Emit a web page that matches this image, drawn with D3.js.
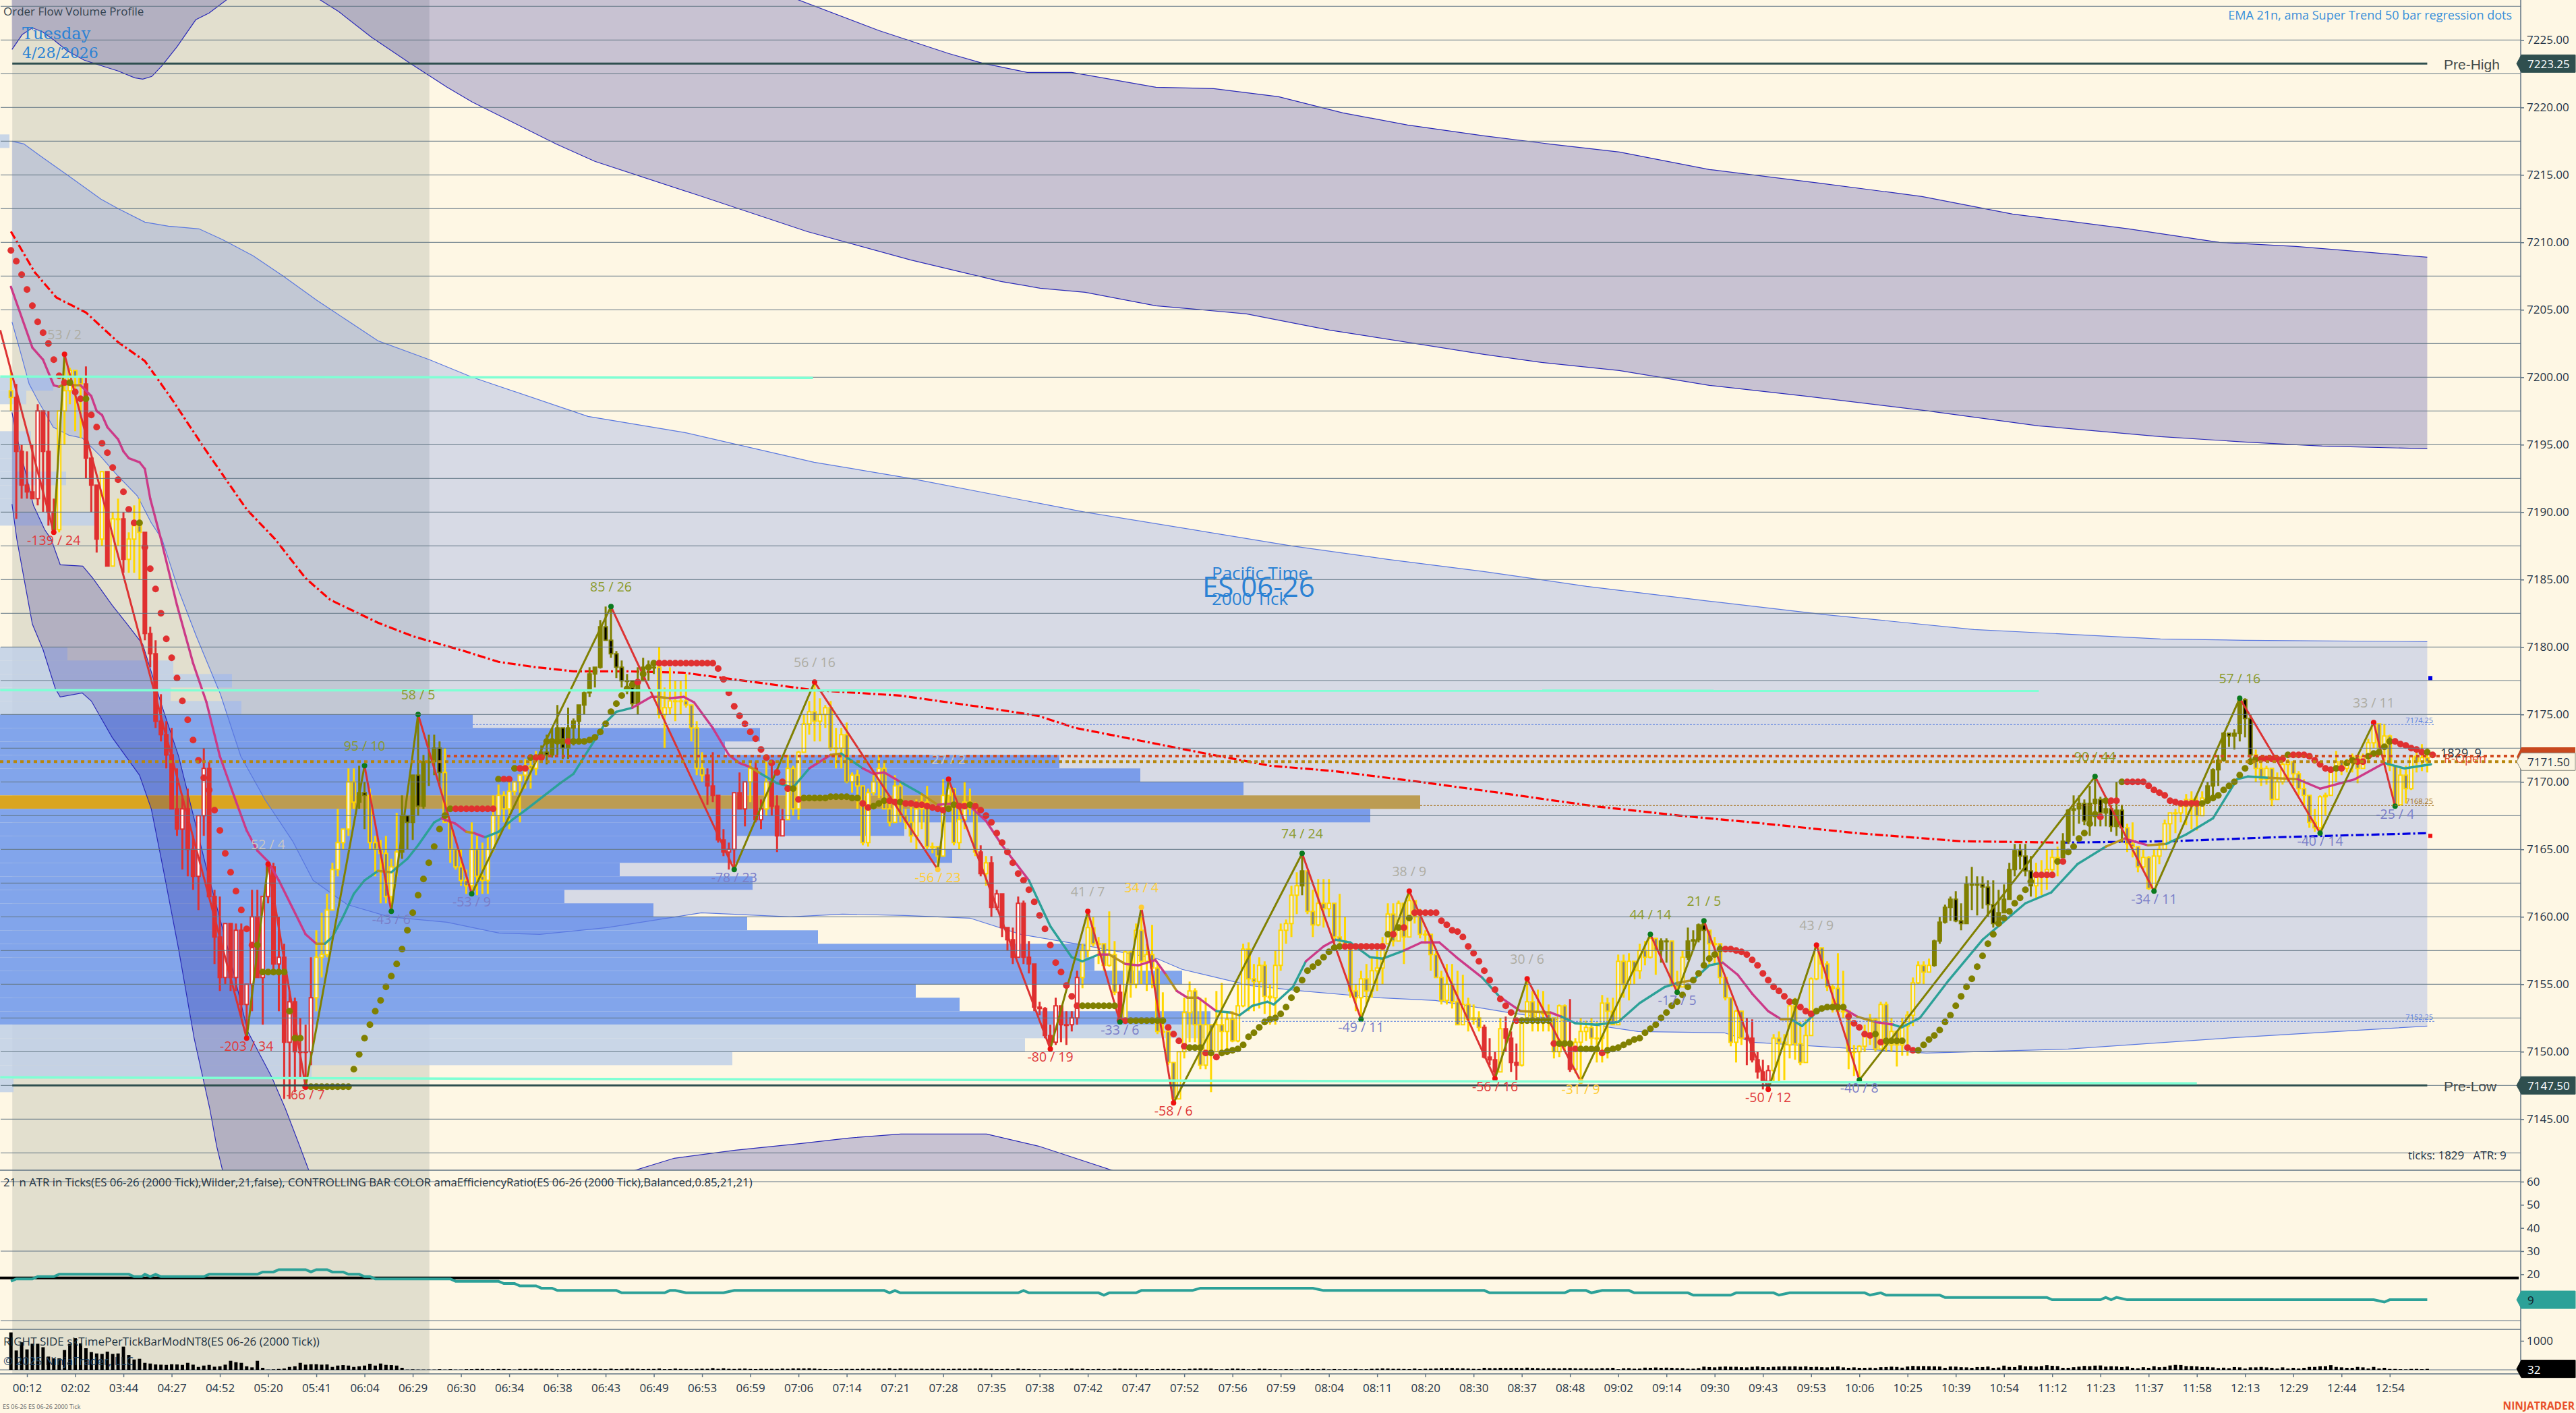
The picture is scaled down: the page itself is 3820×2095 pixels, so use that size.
<!DOCTYPE html>
<html>
<head>
<meta charset="utf-8">
<script src="https://cdn.jsdelivr.net/npm/d3@7"></script>
<style>
html,body{margin:0;padding:0;background:#FEF7E4;overflow:hidden}
text{font-family:"Open Sans",sans-serif}
</style>
</head>
<body>
<div id="chart"></div>
<script>
// Bars are kept as price minus 7100, one row = 10 bars
var priceBase = 7100;
var barClose = [
98.5,94.5,92,91.5,91,97.5,94.5,90,88.7,97.5,
99,100.5,100,99.5,94,92,88,93,86,89.5,
89.5,86.5,88,89,88.5,81,79.5,74.5,73.5,72,
68,66.5,68,65,63,67.5,71,61.5,58.5,55.5,
59.5,55.5,59,53.5,55,60,55.5,61.5,63.7,56.5,
57,50.7,53.7,50,50,50,54,57,57.2,60.5,
63.5,65.5,66.5,70,68.5,69.2,69,65.5,65,64.7,
61.5,63.7,64.8,67.5,67,70.5,68.2,71.5,71.5,72.5,
70.7,67,65,63.7,62.7,62.3,65,63,62.7,65,
67.5,69,68,69.3,70,70.5,71.2,71,71.7,72.2,
72,73,74,72.5,74,74.5,75.7,76.6,78,78.5,
81.5,80.5,79.5,78.5,77.5,77.5,75.8,77.5,78.5,78.5,
78.5,75,75.5,76,76,76,75.7,74,71,70.5,
69.7,69,65.7,64.8,65,69.2,68,70,71,67.2,
68,70,68.2,66,67.2,71,68,72.2,74.3,75.2,
74.5,75,75.5,72.5,72.5,73.5,70,70.5,69.7,65.5,
69.2,70,71,68,67,69.7,67.5,67,66,68,
68.5,65.2,65.2,64.5,69,69.5,65.5,67.2,68.5,68,
64.8,63.2,64,60.7,61.7,59.2,58.3,57,61,57,
56.5,53.3,53.2,51.2,50.7,53.4,52,52,52.5,55.5,
57.5,59.2,58,58,56.4,57.2,54.4,52.2,57.4,55,
59,56.7,57.2,56.2,51.5,51.5,49.2,46.5,50,52.9,
54.5,52,49,52,50,52,51.5,52.4,50.8,53.4,
57.6,55.4,55.2,56.4,54.1,54,56.4,59,59.5,61.6,
62.3,63.4,60.4,59.4,61,60.6,61,58.5,58.2,58,
54.5,54,55.4,54.5,56,56.2,58,60.2,58.2,61,
58.5,61.2,60,58.7,58.7,57.2,55.5,53.8,55,53.7,
52,53.5,52.4,52.5,51.8,49.6,49.4,48.5,51.7,51,
49.2,49,52.4,53.7,52.4,53,52.8,52.5,50,53.4,
50.6,48.7,50.7,51.5,51.8,51,51,53.6,53,52,
56.7,55,56.7,56,57.5,57,58.4,57.5,58.2,58.2,
55,54.8,57,58.2,58.3,59.4,59,58,58,55.5,
54,50.7,53,51,51,49.4,48.5,47.8,48.6,51,
50.7,50.5,53.4,50.6,49.2,51.2,55.4,57.7,56.5,54.8,
54.7,53,53,50,50,50.4,51.3,52.4,50.2,53.5,
50.5,51.5,50.5,51.9,52.7,55.1,56.4,55.9,56.4,58.2,
59.6,60.7,61.3,59.7,59.5,62.4,62.4,62.4,62.2,60.9,
59.5,60.3,61.3,63.5,64.9,64.5,63.4,62.3,63,63,
63.5,64.4,64.4,65.6,67.9,68,68.4,67.1,68.4,68.7,
67.7,68,66.7,67.9,66.6,65.4,65.2,63.7,64.4,62.1,
64.5,65,66.9,67.7,67.7,68.2,68.7,68.2,67.5,68.8,
69.7,70.9,71.6,73.6,73.4,73.6,76.1,74.7,72,71,
70.2,71,68.7,70,71.3,71.5,70.6,69.5,69,67,
66.6,68.9,69,70.9,71.5,71,71.5,71.9,71,71.9,
72.9,74.3,72.5,73.4,71.2,68.3,70.5,69.5,71.9,71.5,
71.8,71.5];
var barHigh = [
100.5,99.5,95,94.5,95,98,97.5,97.5,91,97.5,
101.7,100.7,100,100,100.8,94,92,93,93,90,
91,90,88.5,90.5,91,87.6,81.5,80.5,76.5,74.5,
74,71,69,69.5,66,67.5,72.5,71.5,62,61.5,
59.5,59.5,59.5,59.5,55,62,62,61.5,63.9,64,
60,58,54.5,54,52.5,52,57,59,60.3,61.7,
64,68,66.5,71,71,71.2,70,69.5,66,65.7,
66,64.3,67.7,69,67,70.5,75,72,73.5,73.5,
73,72.5,67,65,65,63.5,67,66,65.5,66,
69,69.8,69.3,70,70,70.5,71.7,71.7,72.3,72.7,
73.5,74,75.7,74,75.5,74.7,75.7,76.7,78.5,78.5,
82,83,83,79.7,79,78,77.5,78.5,79.2,79,
79,80,77,78.5,77.5,77.5,78,75.7,74.5,72.2,
71,72.2,69,66.5,65.5,69.2,70.7,70,71.5,71.5,
68.7,71.5,71.5,69,68,72,71.2,72.3,75,76,
77.4,76.2,75.7,76,74,74,74.4,70.7,70.9,68,
69.5,70.5,72,71.5,68.5,70.5,70,68,68.5,68.7,
69,69.7,65.5,65,70.2,70.2,68.5,68,70,69.5,
68.5,65.3,64.5,64.5,62,61.7,59.2,59.2,61.5,61.2,
58.2,56.5,53.7,53.3,52,54,53,53,53,56,
58,60.4,60,58.5,58,60.4,58.2,55,57.5,57.5,
59.5,60.7,58,59.4,56.5,54.4,51.5,49.2,50,54,
55.2,54.7,54,54,52,54.5,55.1,53,53,55,
58,58.1,56.5,57,56.7,55,57.5,59.5,59.8,62.3,
63.3,64.7,63,62,62.8,62.8,62.8,60.5,61.7,60,
58,55,56,56.5,57,57.5,58.5,61,61,61.2,
61,61.9,61,60.6,59,58,57.5,56,56.5,56.5,
56,55.7,54,53.5,53,52,51,50,52.5,52.6,
51.5,50.6,52.5,55.4,54.5,54.6,54.5,53.5,52,53.5,
53.5,53.9,51,52.5,52.3,52.5,52.2,54.2,54,54,
57.2,57.2,57.3,56.7,58,58.2,58.7,58.2,58.4,58.4,
58.2,56,57.5,59.2,59,59.5,59.7,59,58.5,58,
55,54,53.1,53,52.5,52.4,50,49.4,49,51.3,
51.5,51.3,53.7,54,52.2,52.4,55.5,57.9,57.4,56.7,
55,57.3,56,53,50.5,50.5,52,52.8,52.5,53.7,
53.7,52.5,51,52.5,53,55.5,56.7,56.7,56.9,58.3,
60,60.9,61.5,61.9,61,63,63.7,63,63,62.7,
62.7,62,62.4,64,65.4,65.4,65.4,64.5,64,64.2,
65,65,65.2,66.2,68,69,69,68.7,69.7,70.4,
68.9,68.5,68.3,70,68.3,66.9,67,65.2,65,64.5,
65,65.5,67.2,67.7,68,68.5,69.1,69.3,69,69.3,
70,71,72,73.7,73.6,73.9,76.2,76.2,75,72.4,
71.5,71.2,71,70.7,71.7,71.7,71,70.8,70.2,69,
68,69,69.2,71,72.3,71.5,71.7,72.1,71.8,72.1,
73.2,74.4,74.2,74.3,73.5,71.2,71,71.2,72,72.2,
72.8,72.5];
var barLow = [
97.5,89.5,91,91,91,90.5,90,89,88.5,88.5,
95,98,96,95.5,92.5,90,87,87.5,86,87.5,
87.5,85.5,85.5,85.5,85,80.5,78.5,74,73,71,
68,66,63.5,63,62,60.5,66,61.5,56.5,54.5,
55,54.5,54.5,52.5,51,53,55.5,52,61,56,
53,46.5,46.5,47,48,47.5,49,53,55.5,57,
60.5,63,65,66,68,68,66.5,65,63,61,
61,60.5,63,64.3,65,65.7,67.5,68,69.7,70.5,
69.7,67,64,63.5,62.3,61.7,62,61.6,61.7,61.7,
64.8,65.8,67,66.5,69,67,69.5,69.5,70.5,71.5,
71.3,71.8,72,71.7,71.7,72.7,73,75,76.3,77,
78.4,80.5,79.2,77.7,77,76.5,75.5,75,77.5,77.5,
78,74.7,72.5,75,74.5,75,75.5,73,70.5,70,
68.3,68.5,65.5,64.5,63.5,63.5,68,66.7,68.5,67,
66.5,67.5,67.5,64.8,66,67.2,67.5,67.2,72.2,73.5,
73,73,74,72.3,71,71,69.9,69.2,68,65.3,
65.2,69,68.8,68,66.7,67.5,67,66.5,65.5,65,
66.5,65,64.7,63.5,65.6,68,65.3,65,66.5,67.5,
64.5,63,62.3,60,60.5,58.5,57.5,56.5,57,56.5,
55.8,53,52.7,51,50.2,50.5,50.7,50.5,51.5,52,
54.7,57,57.8,56.5,56,56.3,54.2,52.2,53,54,
54.7,55,54.5,54.7,51.3,51,49,46.2,46.5,49.5,
50.7,50.7,48.7,48.7,47,50,50,50.2,50.7,50.7,
53.3,53,53,53.2,52.8,52,52,56,58,58.5,
60.2,61.6,60.2,58.5,59.3,59.2,60,58,58,57.7,
54,53,52.4,53.5,54,54.5,55,58.3,57.8,58.3,
56.5,58.6,59.5,58.4,58,56,55.5,53.5,53.5,53.2,
52,53,51.5,52,51.5,49.5,49,47.9,49,50,
48.5,47.9,48.9,52.5,51.5,51.5,51.5,51.5,49.5,49.6,
50,48.5,48.4,47.8,50.8,50.5,49.2,49.2,49.5,52,
53.5,54,53.8,55,55.4,56.4,56.9,55.7,56.6,56.6,
54.8,54.4,55,56.8,57.5,58.1,56.5,56.5,56.5,55,
53.8,50.4,49.2,50.5,49,49.2,48,47.2,47.2,47.8,
47.8,47.9,49.5,49.4,49,49.2,52.4,55.3,55.4,54.5,
52.9,52.7,52.5,48.7,48.2,47.9,50,50.5,50,50.4,
50,50,48.9,49.7,49.7,51.9,55,55,55.9,56.3,
58,59.5,59.7,59.6,59,59.5,60.5,60.1,60.6,60,
59.2,59.5,60.5,62.4,63,63.5,63,61.5,61.4,61.6,
62,63,63,64.6,65.4,66,66.9,66.8,66,66.7,
66.7,66.7,66.3,66,65.5,64.8,64.4,63.3,63.5,62,
61.9,63.9,65.2,65.5,66.2,67,66.8,66.5,66.4,68,
68.5,68.7,69.7,71.5,72.6,72.4,73,73.3,71.5,70,
69.7,69.8,68.2,68.7,69.8,70,69.7,69,68.2,66.6,
66.3,66.3,67.5,69,70,70.5,70.7,70.7,69.9,71,
71.4,72.5,71.9,71.5,70.8,68.2,68.3,68.4,69.4,70.7,
70.8,70.7];
// runs of bar colour: Y balanced, R down trend, G up trend
var stateRunEnd =  [0,8,13,16,17,18,20,21,24,56,64,66,72,80,98,120,129,137,138,140,141,144,180,181,182,199,206,207,240,241,274,277,278,281,290,291,307,309,312,316,323,328,358,377,382,394,409,418,451];
var stateRunName = "YRYRYRYRYRYGYGYGYRYRYRYRYRYRYGYRYRYRYGYGYRYGYGYGY";

// super trend dots, one per bar, price minus 7100
var superTrend = [
109.4,108.6,107.6,106.5,105.3,104.1,103.3,102.5,101.3,100.1,
99.6,99.6,98.9,98.4,98.4,97.2,96.3,95.1,94.4,93.3,
92.4,91.5,90.2,89.2,89.2,87.4,85.8,84.3,82.5,80.6,
79.2,77.7,76,74.6,73.1,71.6,70.3,69.4,67.9,66.4,
64.7,63.3,61.9,60.5,59.1,57.9,57.9,55.9,55.9,55.9,
55.9,55.9,53,51,51,47.4,47.4,47.4,47.4,47.4,
47.4,47.4,47.4,47.4,48.7,49.8,51,52,53,53.8,
54.8,55.6,56.5,57.6,59,60.3,61.6,62.8,64,65.2,
66.5,67.5,68,68,68,68,68,68,68,68,
68,70.2,70.2,70.2,71,71,71,71.8,71.8,71.8,
73,73,73,73,73,73,73,73,73.1,73.3,
73.7,74.3,75.2,75.8,76.4,76.9,77.2,77.4,78,78.5,
78.8,78.8,78.8,78.8,78.8,78.8,78.8,78.8,78.8,78.8,
78.8,78.8,78.4,77.6,76.6,75.6,74.9,74.3,73.7,73.2,
72.4,71.8,71.4,70.7,70,69.5,69.5,68.7,68.8,68.8,
68.8,68.8,68.8,68.9,68.9,68.9,68.9,68.8,68.8,68.4,
68.1,68.2,68.4,68.6,68.6,68.5,68.5,68.4,68.4,68.3,
68.3,68.2,68.1,68,67.9,68,68.3,68.2,68.2,68.3,
68.2,67.9,67.5,67,66.2,65.5,64.8,64,63.2,62.7,
62,61.1,60.1,59.1,57.9,56.6,55.9,54.9,54.1,53.4,
53.4,53.4,53.4,53.4,53.4,53.4,53.4,52.3,52.3,52.3,
52.3,52.3,52.3,52.3,52.3,52.3,51.8,51.3,50.8,50.4,
50.3,50.3,50.3,49.9,49.9,49.6,49.9,50,50.1,50.2,
50.5,51.1,51.4,51.8,52.2,52.4,52.5,52.8,53.3,54,
54.6,55.3,56,56.3,56.6,57,57.4,57.7,57.8,57.8,
57.8,57.8,57.8,57.8,57.8,57.8,57.8,58.7,58.7,59.2,
59.2,59.9,60.3,60.3,60.3,60.3,60.3,59.7,59.4,59,
58.9,58.5,57.8,57.3,56.7,56,55.3,54.6,53.9,53.4,
52.9,52.3,52.3,52.3,52.3,52.3,52.3,52.3,50.6,50.6,
50.6,50.6,50.2,50.2,50.2,50.2,50.2,49.9,50.1,50.2,
50.3,50.5,50.7,50.9,51,51.4,51.7,52,52.5,52.9,
53.4,53.7,54.2,54.8,55.3,55.8,56.4,56.9,57.2,57.6,
57.6,57.6,57.5,57.4,57.2,56.8,56.4,55.8,55.3,54.8,
54.5,54.1,53.7,53.7,53.3,53,52.8,53,53.2,53.3,
53.3,53.3,53.3,52.6,52.1,51.8,51.3,51.2,51.3,50.7,
50.8,50.8,50.8,50.8,50.3,50.1,50.1,50.5,50.9,51.2,
51.6,52.2,52.7,53.4,54.1,54.8,55.4,56.3,57.1,58,
58.7,59.5,59.9,60.4,61,61.4,62,62.6,63.1,63.1,
63.1,63.1,64.1,64.1,64.8,65.2,65.8,66.2,66.9,67.6,
67.4,68.6,68.6,68.6,70,70,70,70,70,69.7,
69.4,69.2,69,68.6,68.5,68.4,68.4,68.4,68.4,68.4,
68.6,68.8,69,69.4,69.7,70,70.5,71,71.5,71.7,
71.7,71.7,71.7,71.7,71.7,72,72,72,72,71.9,
71.6,71.3,71,70.9,71,71,71.4,71.6,71.5,71.5,
71.9,72.1,72.2,72.6,73,73,72.8,72.7,72.5,72.4,
72.2,72.2,72];
var superTrendOliveFrom = [11,14,24,46,56,91,94,97,100,105,118,146,148,161,166,175,179,200,209,220,224,226,257,259,261,282,289,293,298,333,337,348,350,356,382,384,391,394,409,425,434,436,440,451];
var superTrendOliveTo   = [11,14,24,54,82,91,94,97,103,116,120,146,158,163,166,176,179,206,215,222,224,248,257,259,261,287,291,296,319,333,342,348,353,377,382,389,391,394,419,425,434,437,444,451];

// EMA 21, colour code goes from this point to the next: M magenta, T teal, O orange
var emaBar = [0,4,6,8,9,10,12,13,15,16,17,18,20,21,22,24,25,26,28,31,34,36.5,39,41.6,44,46,48,50,52.5,55,57,58.6,60,62,64,66,68.5,71,74,76,79,80.4,83,85,86.5,88.5,91,93.6,96,98.6,102.5,105,108,111,113,116,119.5,120.7,123,125.6,127.5,131,134,136,138,140,143,146,149,153,155,159,161,163,166,170,173,176,179,182,185,190,194,198,200,203,205,208,210.4,213.6,215.6,217.6,219.6,221.6,225,227.7,229.3,231.7,234.5,235.7,239.3,241.7,245,247.3,250,253.7,256,260,263.3,266.6,269.8,274.6,277.8,281.8,287.4,289.4,292,296,300,304,308.7,311,314,317,319.5,322.3,325,328,330.4,332.3,334.3,337.2,340.7,344.6,348,351.4,352.9,356.3,361.7,368,376,380.8,385.7,391,394.5,398.9,402.3,406,411,415.5,417.5,421.4,426.8,431,437.5,443,446.8,451.7];
var emaPrice = [106.7,102.2,101.3,99.4,99.3,99.5,99.4,99.4,98.6,97.5,97.2,96.3,95.4,94.5,94,93.7,93.2,91,88,83.1,78.8,75.9,71.9,69,66.4,64.9,64.1,62.7,60.7,58.7,58,58,58.5,60,61.7,62.7,63.4,63.3,64.3,65.3,67,67.3,66.9,66.3,66.2,65.9,66.3,67.2,67.9,68.7,69.9,70.6,72.5,74.4,75.2,75.5,76.3,76.3,76.2,76.3,75.9,74,72,71.4,71.1,70.6,69.9,69.6,71,72,72.1,71,70.6,70.7,70,69.1,68.3,68.4,68.2,67.1,65.3,62.7,59.3,57,56.7,57.2,57.2,56.5,56.4,56.8,55.7,54.5,54,54,53,52.9,52.7,53.4,53.7,53.5,54.8,56.7,57.8,58.3,58.1,57,56.9,57.5,58.1,58.1,57,55.5,54.1,53,52.9,52.6,52.1,52,52.2,53.6,54.8,55.1,55.3,56.4,56.6,55.7,54.3,53,52.4,52.4,51.9,53,53.5,52.6,52.2,52,51.8,52.5,55.3,58.3,61,61.8,63.9,65.2,65.8,65.3,65.4,66.1,67.3,70.2,70.4,70.3,70.2,69.5,70.2,71.4,71,71.3];
var emaColor = "MMMMOOOMMMMMMMMMMMMMMMMMMMMMMMOTTTTTOTTTTMMOMTTTTTTTTTTMMOMMMMMMOTTTMOTMMMTOMMMMMTTTTMOMMMOMOMTOTTTTTMMTTTTMMMMTMOMTTTTTTOTTMMMMOTTTMOMTTTTTTTTOMOTTTTTOMMMTTOOT";

// zigzag pivots
var pivotBar = [8,10,44,48,55,66,71,76,86,112,135,150,173,175,194,201,207,211,217,241,252,261,277,283,293,306,311,316,328,337,345,389,400,416,431,441,445];
var pivotPrice = [7188.5,7201.7,7151,7163.9,7147.4,7171.2,7160.4,7175,7161.7,7183,7163.5,7177.4,7163.5,7170.2,7150.2,7160.4,7152.2,7160.7,7146.2,7164.7,7152.4,7161.9,7148,7155.4,7147.8,7158.7,7154.4,7159.7,7147.2,7157.9,7147.9,7170.4,7161.9,7176.2,7166.2,7174.4,7168.2];
var pivotText = ["-139 / 24","53 / 2","-203 / 34","52 / 4","-66 / 7","95 / 10","-43 / 6","58 / 5","-53 / 9","85 / 26","-78 / 23","56 / 16","-56 / 23","27 / 2","-80 / 19","41 / 7","-33 / 6","34 / 4","-58 / 6","74 / 24","-49 / 11","38 / 9","-56 / 16","30 / 6","-31 / 9","44 / 14","-17 / 5","21 / 5","-50 / 12","43 / 9","-40 / 8","90 / 44","-34 / 11","57 / 16","-40 / 14","33 / 11","-25 / 4"];
var pivotKind = "RWRLRGPGPGPWYLRWPYRGPWRWYGPGRWPGPGPWP";

// regression line
var regBar = [0,4.4,8.5,14,20,25,30,36,44,49.3,55,59.6,68.5,75,84.6,91,98,105,114.7,125.5,135,150,166,182,191.7,198.7,212.8,223,235,247,263,279.5,295.5,311.5,325,344.6,364,382.7];
var regPrice = [7210.8,7207.8,7205.9,7204.8,7202.6,7201.2,7198.4,7194.8,7190.2,7188,7185.1,7183.5,7181.8,7180.8,7179.7,7178.9,7178.5,7178.2,7178.2,7178.1,7177.6,7176.8,7176.4,7175.5,7174.9,7174,7172.9,7172.1,7171.2,7170.8,7170,7169.1,7168.2,7167.5,7167,7166.2,7165.6,7165.5];
var regUpBar = [382.7,403,423,451];
var regUpPrice = [7165.5,7165.6,7165.9,7166.2];

// channels
var topUpperBar = [0,130,146.8,162,175,181.2,189.7,198,213.7,224.5,236.6,248.6,260.7,274.9,287,300.2,317,337.4,356.7,373.6,395.3,412.2,426.5,451];
var topUpperPrice = [7240,7236,7228,7225.7,7224,7223.3,7222.6,7222.6,7221.5,7221.4,7220.8,7219.6,7218.7,7217.9,7217.3,7216.7,7215.4,7214.4,7213.4,7212.1,7211,7210,7209.7,7208.9];
var topLowerBar = [0.2,2.1,4,5.9,8,10.5,13.7,16.8,20,23.1,24.6,26.3,28.2,31,34.5,37,42,49.6,57.6,61.2,67.3,74.4,81.4,86.1,101.7,109,128.2,148.6,167.9,184.8,192.1,200.5,213.7,230.6,246.1,274.9,285.7,300.2,317,335,357.9,378.4,401.2,416.9,431.4,451];
var topLowerPrice = [7224.3,7225.4,7225.9,7225.6,7225,7224.2,7223.5,7223.1,7222.7,7222.2,7222.1,7222.3,7223.1,7224.5,7226.5,7227,7228.5,7229.5,7228,7227.1,7225.2,7223.3,7221.5,7220.4,7217.3,7216,7213.5,7210.8,7208.7,7207.1,7206.6,7206.3,7205.3,7204.7,7203.5,7201.7,7201.1,7200.5,7199.4,7198.6,7197.5,7196.4,7195.6,7195.2,7194.9,7194.7];
var midUpperBar = [0.2,2.4,5.5,10.5,16.8,20,25,29.4,35.1,39.5,45.2,50.8,57.1,60.9,68.5,78.1,86.1,107.7,125.8,149.9,167.9,200.5,239,257,274.9,294.1,317,338.7,366.4,401.2,416.9,451];
var midUpperPrice = [7217.5,7217.3,7216.4,7215,7213.2,7212.5,7211.5,7211.2,7211,7210.2,7209,7207.5,7205.7,7204.7,7202.7,7201.3,7200,7197.1,7195.9,7193.7,7192.5,7190,7187.5,7186.5,7185.6,7184.5,7183.4,7182.4,7181.3,7180.6,7180.5,7180.4];
var midLowerBar = [0.2,1.9,3.4,5,7.9,10.8,13.3,16.6,19.7,23.6,26.2,28.2,31.3,34.6,39.1,42.9,47.4,52.6,56.4,62.8,70.6,81.4,91.1,98.7,111.2,128.9,145.5,155.2,166.8,179,188.5,198.8,213.9,218.6,231.4,241.1,255.5,265.9,279.6,291.6,303.7,319.8,325.2,357.5,384,413.3,451];
var midLowerPrice = [7204.1,7201.7,7199.5,7198.3,7196.3,7195.7,7195.5,7194.2,7192.8,7191.2,7189.2,7188,7184.2,7180.8,7176.5,7171.9,7168.7,7165.6,7162.7,7160.9,7160,7159.6,7158.8,7158.7,7159.2,7160.3,7160,7160.2,7160.1,7159.9,7158.7,7158,7156.9,7156.1,7154.9,7154.5,7154,7153.8,7152.9,7152.2,7151.5,7151.4,7150.7,7149.9,7150.2,7151,7151.9];
var lowUpperBar = [0.2,1.1,2.7,4.2,6.3,7.5,9.2,13.4,15.3,18.9,21.7,24.6,28.2,31.3,36.5,40.4,44.2,48.7,51.2,53.9,55.6];
var lowUpperPrice = [7197.4,7195.6,7193,7190.5,7188.7,7188,7186.1,7186,7185.1,7183.1,7181.7,7180.2,7175.6,7171.9,7163.6,7157.8,7151.5,7148.1,7145.8,7143,7141.2];
var lowLowerBar = [0.2,1.1,4,6,8.3,9.2,13.3,15,18.9,24,26.2,28.4,31.3,34.2,37.1,38.4,39.5];
var lowLowerPrice = [7190.6,7188,7181.7,7179.8,7176.9,7176.3,7176.6,7176,7173.3,7170.5,7168,7163.6,7157.6,7151,7145.8,7143,7141.2];
var humpBar = [116.4,123.8,135.2,147.5,156.4,166.1,182.1,191.8,205.6];
var humpPrice = [7141.2,7142.1,7142.7,7143.2,7143.6,7143.9,7143.9,7143,7141.2];

// volume profile, top price of each 1 point row and its volume
var profilePrice = [7218,7200,7199,7196,7195,7194,7193,7192,7191,7190,7180,7179,7178,7177,7176,7175,7174,7173,7172,7171,7170,7169,7168,7167,7166,7165,7164,7163,7162,7161,7160,7159,7158,7157,7156,7155,7154,7153,7152,7151,7150,7149,7148];
var profileVolume = [14,79,39,46,24,24,98,24,24,140,100,257,344,253,358,701,1127,1075,1571,1691,1844,2106,2032,1341,1093,1412,919,1116,837,969,1108,1213,1613,1623,1753,1358,1423,1795,1791,1520,1086,462,20];
var valueAreaLow = 7152, pointOfControl = 7169;

// ATR pane
var atrBar = [0,1,4,5,8,9,22,23,24.4,25,26,27,28,36,37,46,47,49,50,55,56,57,59,60,62,63,65,66,67,68,82,83,91,92,94,95,98,99,101,102,113,114,122,123,124,126,133,135,163,164,165,166,188,189,190,203,204,205,210,211,220.5,222,243,245,275,276,290,291,294,295,297,302,303,313,314,321,322,329,330,332,346,347,349,350,360,361,380,381,390,391,392,393,395,441,443,444,451];
var atrValue = [17,18,18,19,19,20,20,19,19,20,19,20,19,19,20,20,21,21,22,22,21,22,22,21,21,20,20,19,19,18,18,17,17,16,16,15,15,14,14,13,13,12,12,13,13,12,12,13,13,12,13,12,12,13,12,12,11,12,12,13,13,14,14,13,13,12,12,13,13,12,13,13,12,12,11,11,12,12,11,12,12,11,12,11,11,10,10,9,9,10,9,10,9,9,8,9,9];
var atrLevel = 18.4;

// time per bar pane, one row = 10 bars
var barVolume = [
1290,667,950,705,900,900,780,457,395,395,
682,900,1090,915,745,612,565,550,628,550,
565,800,510,356,380,240,217,186,178,170,
194,186,170,240,178,100,147,170,108,124,
178,310,264,240,124,85,310,70,8,15,
30,46,100,124,240,178,194,194,178,186,
100,147,162,147,100,124,147,210,147,217,
170,162,147,70,8,15,8,8,8,8,
20,8,20,8,8,20,20,30,30,15,
20,30,30,20,8,30,30,30,40,30,
30,30,20,20,20,30,30,30,30,40,
30,20,40,25,30,45,40,35,25,30,
30,45,20,25,45,30,30,20,35,40,
35,60,35,55,35,30,40,45,30,25,
35,30,35,30,45,35,50,50,50,55,
45,30,25,20,20,30,35,30,30,40,
30,40,45,35,55,30,50,40,40,35,
40,30,40,35,35,30,35,40,35,40,
45,50,35,35,25,25,35,20,45,30,
25,20,15,20,15,20,15,35,45,30,
40,25,20,30,20,15,40,45,30,35,
30,25,40,20,25,35,35,30,25,20,
35,45,50,45,45,20,15,30,45,40,
30,15,20,40,35,20,20,15,25,20,
10,25,35,25,20,35,15,25,15,20,
15,30,15,20,35,40,50,45,35,35,
30,25,45,25,40,40,50,60,60,65,
55,55,45,35,30,70,60,60,70,65,
65,70,60,75,65,60,45,55,60,50,
60,65,55,50,60,45,50,60,60,70,
20,55,60,40,45,75,70,80,70,75,
70,60,60,40,40,60,110,95,85,105,
115,105,105,90,85,105,120,95,90,105,
115,120,115,120,105,120,95,105,90,85,
105,120,85,70,85,70,70,75,65,90,
95,110,100,75,115,135,125,130,125,120,
115,70,115,110,90,85,70,95,95,115,
70,80,145,100,95,155,120,130,110,130,
160,140,130,70,70,90,110,135,125,145,
150,110,125,120,95,115,70,55,90,70,
125,90,100,150,170,165,130,130,120,95,
100,85,60,75,55,95,85,46,85,85,
100,85,70,46,85,46,70,46,70,100,
100,125,125,160,100,85,70,70,100,85,
46,100,46,70,30,30,20,15,30,32,
20,32];

// tick labels
var priceTicks = [7225,7220,7215,7210,7205,7200,7195,7190,7185,7180,7175,7170,7165,7160,7155,7150,7145];
var priceGrid = d3.range(7142.5, 7228, 2.5);
var atrTicks = [60,50,40,30,20];
var atrGrid = [60,30,0];
var timeLabels = ["00:12","02:02","03:44","04:27","04:52","05:20","05:41","06:04","06:29","06:30","06:34","06:38","06:43","06:49","06:53","06:59","07:06","07:14","07:21","07:28","07:35","07:38","07:42","07:47","07:52","07:56","07:59","08:04","08:11","08:20","08:30","08:37","08:48","09:02","09:14","09:30","09:43","09:53","10:06","10:25","10:39","10:54","11:12","11:23","11:37","11:58","12:13","12:29","12:44","12:54"];
var timeTickBar = timeLabels.map((d, i) => 3 + i * 9);

// levels
var preHigh = 7223.25, preLow = 7147.5, lastPrice = 7171.5, openLevel = 7171.92;
var mintStartBar = -2;
var mintEndBar = [149.7, 378.5, 408];
var mintStartPrice = [7200.05, 7176.8, 7148.1];
var mintEndPrice = [7199.95, 7176.75, 7147.65];
var shadeEndBar = 78.1;

var svgWidth = 3820, svgHeight = 2095;
var axisX = 3738;
var mainBottom = 1735;
var colors = {bg:"#FEF7E4", grid:"#5F7383", red:"#E03030", olive:"#808000", yellow:"#FFD700", teal:"#2CA198", magenta:"#CC3A88", orange:"#B8941E", slate:"#2F4F4F", blue:"#2B82D4", axisText:"#243447"};
var labelColors = {R:"#E03A3A", G:"#8B9A2B", P:"#7A7EC8", Y:"#FFCC33", W:"#AEADA3", L:"#C9C9C2"};

var svg = d3.select("#chart").append("svg").attr("width", svgWidth).attr("height", svgHeight).style("display", "block");
svg.append("rect").attr("width", svgWidth).attr("height", svgHeight).attr("fill", colors.bg);
svg.append("clipPath").attr("id", "mainClip").append("rect").attr("width", axisX).attr("height", mainBottom);

var x = d3.scaleLinear().domain([0, 451]).range([16.2, 3599.4]);
var y = d3.scaleLinear().domain([7225, 7145]).range([59.3, 1659.3]);
var yAtr = d3.scaleLinear().domain([0, 60]).range([1958, 1752]);
var yVol = d3.scaleLinear().domain([0, 1000]).range([2031, 1988]);
var wProfile = d3.scaleLinear().domain([0, 2106]).range([0, 2106]);

var bars = barClose.map((c, i) => {
  var run = stateRunEnd.findIndex(e => i <= e);
  return {
    i: i,
    o: priceBase + (i ? barClose[i - 1] : 99),
    c: priceBase + c,
    h: priceBase + barHigh[i],
    l: priceBase + barLow[i],
    state: stateRunName[run]
  };
});

// session shade
svg.append("rect").attr("x", x(0) + 2).attr("y", 0).attr("width", x(shadeEndBar) - x(0) - 2).attr("height", 2037).attr("fill", "rgb(57,78,78)").attr("opacity", .14);

var main = svg.append("g").attr("clip-path", "url(#mainClip)");

// volume profile
main.append("g").selectAll("rect").data(profilePrice).enter().append("rect")
  .attr("x", 0)
  .attr("y", d => y(d))
  .attr("width", (d, i) => wProfile(profileVolume[i]))
  .attr("height", d => y(d - 1) - y(d))
  .attr("fill", d => d === pointOfControl ? "#DAA520" : (d <= 7175 && d > valueAreaLow ? "#82A5EB" : "#C0D0E7"))
  .attr("opacity", d => d <= 7175 && d > valueAreaLow ? 1 : .85);

// channels
function band(upB, upP, loB, loP, fill, stroke) {
  var pts = upB.map((b, i) => [x(b), y(upP[i])]);
  var low = loB.map((b, i) => [x(b), y(loP[i])]);
  var line = d3.line();
  main.append("path").attr("d", line(pts.concat(low.slice().reverse())) + "Z").attr("fill", fill);
  main.append("path").attr("d", line(pts)).attr("fill", "none").attr("stroke", stroke).attr("stroke-width", 1.2);
  main.append("path").attr("d", line(low)).attr("fill", "none").attr("stroke", stroke).attr("stroke-width", 1.2);
}
band(midUpperBar, midUpperPrice, midLowerBar, midLowerPrice, "rgba(98,131,232,.25)", "#5A78E0");
band(topUpperBar, topUpperPrice, topLowerBar, topLowerPrice, "rgba(38,36,156,.25)", "#2A2AB8");
band(lowUpperBar, lowUpperPrice, lowLowerBar, lowLowerPrice, "rgba(38,36,156,.25)", "#2A2AB8");
band(humpBar, humpPrice, [humpBar[0], humpBar[humpBar.length - 1]], [7141.2, 7141.2], "rgba(38,36,156,.25)", "#2A2AB8");

// grid
svg.append("g").selectAll("line").data(priceGrid).enter().append("line")
  .attr("x1", 1).attr("x2", axisX).attr("y1", d => y(d)).attr("y2", d => y(d))
  .attr("stroke", colors.grid).attr("stroke-width", 1);

// session levels
[[preHigh, 3], [preLow, 3]].forEach(d => {
  svg.append("line").attr("x1", x(0) + 2).attr("x2", x(451)).attr("y1", y(d[0])).attr("y2", y(d[0]))
    .attr("stroke", colors.slate).attr("stroke-width", d[1]);
});
mintEndBar.forEach((b, i) => {
  svg.append("line").attr("x1", x(mintStartBar)).attr("x2", x(b)).attr("y1", y(mintStartPrice[i])).attr("y2", y(mintEndPrice[i]))
    .attr("stroke", "#7FFFD4").attr("stroke-width", 3.5);
});

// value area dashes
[[7174.25, 701, "#5A80E0"], [7168.25, 2106, "#A6701A"], [7152.25, 1842, "#5A80E0"]].forEach(d => {
  svg.append("line").attr("x1", d[1]).attr("x2", 3610).attr("y1", y(d[0])).attr("y2", y(d[0]))
    .attr("stroke", d[2]).attr("stroke-width", 1).attr("stroke-dasharray", "3,2");
  svg.append("text").attr("x", 3608).attr("y", y(d[0]) - 2).attr("text-anchor", "end")
    .attr("font-size", 11).attr("fill", d[2]).text(d[0].toFixed(2));
});
svg.append("line").attr("x1", 0).attr("x2", axisX - 6).attr("y1", y(lastPrice)).attr("y2", y(lastPrice))
  .attr("stroke", "#B8860B").attr("stroke-width", 4).attr("stroke-dasharray", "5,5");
svg.append("line").attr("x1", x(81.4)).attr("x2", axisX - 6).attr("y1", y(openLevel)).attr("y2", y(openLevel))
  .attr("stroke", "#D24A1F").attr("stroke-width", 4).attr("stroke-dasharray", "5,5");

// regression line
var priceLine = d3.line().x(d => x(d[0])).y(d => y(d[1]));
main.append("path").attr("d", priceLine(regBar.map((b, i) => [b, regPrice[i]])))
  .attr("fill", "none").attr("stroke", "#FF0000").attr("stroke-width", 3.2).attr("stroke-dasharray", "12,4,3,4");
main.append("path").attr("d", priceLine(regUpBar.map((b, i) => [b, regUpPrice[i]])))
  .attr("fill", "none").attr("stroke", "#0000E0").attr("stroke-width", 3.2).attr("stroke-dasharray", "12,4,3,4");

// candles
var barStyle = {
  Y: {line: colors.yellow, up: "#F1EFE4", down: "#808080"},
  R: {line: colors.red, up: "#FFFFFF", down: colors.red},
  G: {line: colors.olive, up: colors.olive, down: "#000000"}
};
var candle = main.append("g").selectAll("g").data(bars).enter().append("g");
candle.append("line")
  .attr("x1", d => x(d.i)).attr("x2", d => x(d.i))
  .attr("y1", d => y(d.h)).attr("y2", d => y(d.l))
  .attr("stroke", d => barStyle[d.state].line).attr("stroke-width", 3);
candle.append("rect")
  .attr("x", d => x(d.i) - 2.5)
  .attr("y", d => y(Math.max(d.o, d.c)))
  .attr("width", 5)
  .attr("height", d => Math.max(1, Math.abs(y(d.o) - y(d.c))))
  .attr("fill", d => d.c >= d.o ? barStyle[d.state].up : barStyle[d.state].down)
  .attr("stroke", d => barStyle[d.state].line).attr("stroke-width", 2);

// ema, one segment per colour change
var emaStroke = {M: colors.magenta, T: colors.teal, O: colors.orange};
emaBar.slice(0, -1).forEach((b, i) => {
  main.append("line")
    .attr("x1", x(b)).attr("y1", y(priceBase + emaPrice[i]))
    .attr("x2", x(emaBar[i + 1])).attr("y2", y(priceBase + emaPrice[i + 1]))
    .attr("stroke", emaStroke[emaColor[i]]).attr("stroke-width", 3.4).attr("stroke-linecap", "round");
});

// zigzag
var zig = [[-2, 7203.5]].concat(pivotBar.map((b, i) => [b, pivotPrice[i]]));
zig.slice(0, -1).forEach((p, i) => {
  var n = zig[i + 1];
  main.append("line").attr("x1", x(p[0])).attr("y1", y(p[1])).attr("x2", x(n[0])).attr("y2", y(n[1]))
    .attr("stroke", n[1] < p[1] ? "#DD3333" : colors.olive).attr("stroke-width", 3);
});

// super trend dots
function isOlive(i) {
  return superTrendOliveFrom.some((a, k) => i >= a && i <= superTrendOliveTo[k]);
}
main.append("g").selectAll("circle").data(superTrend).enter().append("circle")
  .attr("cx", (d, i) => x(i)).attr("cy", d => y(priceBase + d)).attr("r", 5)
  .attr("fill", (d, i) => isOlive(i) ? colors.olive : colors.red);

// pivot dots and labels
main.append("g").selectAll("circle").data(pivotBar).enter().append("circle")
  .attr("cx", d => x(d)).attr("cy", (d, i) => y(pivotPrice[i])).attr("r", 4)
  .attr("fill", (d, i) => {
    var k = pivotKind[i];
    return k === "Y" ? "#FFCC33" : (k === "G" || k === "P" ? "#0A7A1E" : "#F01010");
  });
svg.append("g").selectAll("text").data(pivotText).enter().append("text")
  .attr("x", (d, i) => x(pivotBar[i]))
  .attr("y", (d, i) => {
    var up = i % 2 === 1;
    return y(pivotPrice[i]) + (up ? -22 : 19);
  })
  .attr("text-anchor", "middle").attr("font-size", 19.5)
  .attr("fill", (d, i) => labelColors[pivotKind[i]]).text(d => d);

// end squares
[[7177.7, "#0000E0"], [7166, "#F01010"]].forEach(d => {
  svg.append("rect").attr("x", 3601).attr("y", y(d[0]) - 3).attr("width", 6).attr("height", 6).attr("fill", d[1]);
});

// atr pane
svg.append("g").selectAll("line").data(atrGrid).enter().append("line")
  .attr("x1", 1).attr("x2", axisX).attr("y1", d => yAtr(d)).attr("y2", d => yAtr(d))
  .attr("stroke", colors.grid).attr("stroke-width", 1.2);
svg.append("line").attr("x1", 0).attr("x2", axisX - 3).attr("y1", yAtr(atrLevel)).attr("y2", yAtr(atrLevel))
  .attr("stroke", "#000").attr("stroke-width", 4);
svg.append("path")
  .attr("d", d3.line().x(d => x(d[0])).y(d => yAtr(d[1]))(atrBar.map((b, i) => [b, atrValue[i]])))
  .attr("fill", "none").attr("stroke", colors.teal).attr("stroke-width", 4);

// time per bar pane
svg.append("line").attr("x1", 0).attr("x2", axisX).attr("y1", mainBottom).attr("y2", mainBottom).attr("stroke", colors.grid).attr("stroke-width", 1.5);
svg.append("line").attr("x1", 0).attr("x2", axisX).attr("y1", 1971).attr("y2", 1971).attr("stroke", colors.grid).attr("stroke-width", 1.5);
svg.append("line").attr("x1", 0).attr("x2", axisX).attr("y1", yVol(0)).attr("y2", yVol(0)).attr("stroke", colors.grid).attr("stroke-width", 1.2);
svg.append("g").selectAll("rect").data(barVolume).enter().append("rect")
  .attr("x", (d, i) => x(i) - 2.5).attr("width", 5)
  .attr("y", d => yVol(d)).attr("height", d => yVol(0) - yVol(d)).attr("fill", "#000");

// axes
function styleAxis(g) {
  g.selectAll("path,line").attr("stroke", colors.grid).attr("stroke-width", 1.5);
  g.selectAll("text").attr("font-size", 17).attr("font-family", "'Open Sans',sans-serif").attr("fill", colors.axisText);
}
svg.append("g").attr("transform", `translate(${axisX},0)`)
  .call(d3.axisRight(y).tickValues(priceTicks).tickFormat(d3.format(".2f")).tickSize(5).tickPadding(4)).call(styleAxis)
  .select("path").attr("d", `M0,0V2037`);
svg.append("g").attr("transform", `translate(${axisX},0)`)
  .call(d3.axisRight(yAtr).tickValues(atrTicks).tickFormat(d3.format("d")).tickSize(5).tickPadding(4)).call(styleAxis)
  .select("path").remove();
svg.append("g").attr("transform", `translate(${axisX},0)`)
  .call(d3.axisRight(yVol).tickValues([1000]).tickFormat(d3.format("d")).tickSize(5).tickPadding(4)).call(styleAxis)
  .select("path").remove();
svg.append("g").attr("transform", "translate(0,2037)")
  .call(d3.axisBottom(x).tickValues(timeTickBar).tickFormat((d, i) => timeLabels[i]).tickSize(5).tickPadding(10)).call(styleAxis)
  .select("path").attr("d", `M0,0H${axisX}`);

// value tags on the axis
function tag(cy, txt, fill, color, stroke) {
  var t = svg.append("g");
  t.append("path").attr("d", `M3732,${cy}L3739,${cy - 13}H3819V${cy + 13}H3739Z`)
    .attr("fill", fill).attr("stroke", stroke || fill).attr("stroke-width", 1);
  t.append("text").attr("x", 3748).attr("y", cy + 7).attr("font-size", 17).attr("fill", color).text(txt);
}
svg.append("path").attr("d", `M3732,1122L3739,1108H3819V1136H3739Z`).attr("fill", "#C8481E");
tag(y(preHigh), "7223.25", colors.slate, "#FFFFFF");
tag(y(preLow), "7147.50", colors.slate, "#FFFFFF");
tag(y(lastPrice), "7171.50", "#FBF5E2", "#243447", "#8A8A80");
tag(yAtr(9), "9", colors.teal, "#10202A");
tag(yVol(32) , "32", "#000000", "#FFFFFF");

// texts
function label(tx, ty, txt, size, fill, extra) {
  var t = svg.append("text").attr("x", tx).attr("y", ty).attr("font-size", size).attr("fill", fill).text(txt);
  if (extra) extra(t);
  return t;
}
label(5, 23, "Order Flow Volume Profile", 17, "#33434F");
label(33, 58, "Tuesday", 24, colors.blue, t => t.style("font-family", "'DejaVu Serif',serif"));
label(33, 86, "4/28/2026", 22, colors.blue, t => t.style("font-family", "'DejaVu Serif',serif"));
label(3725, 29, "EMA 21n, ama Super Trend 50 bar regression dots", 18, "#3A90DA", t => t.attr("text-anchor", "end"));
label(3624, 103, "Pre-High", 21, "#444B4B", t => t.style("font-family", "'Liberation Sans',sans-serif"));
label(3624, 1618, "Pre-Low", 21, "#444B4B", t => t.style("font-family", "'Liberation Sans',sans-serif"));
label(1797, 859, "Pacific Time", 26, colors.blue);
label(1783, 885, "ES 06-26", 42, colors.blue);
label(1797, 897, "2000 Tick", 26, colors.blue);
label(3619, 1123, "1829  9", 18, "#243447", t => t.attr("xml:space", "preserve"));
label(3624, 1131, "R-Open", 18, "#E05030");
label(3571, 1719, "ticks: 1829   ATR: 9", 17, "#243447", t => t.attr("xml:space", "preserve"));
label(5, 1759, "21 n ATR in Ticks(ES 06-26 (2000 Tick),Wilder,21,false), CONTROLLING BAR COLOR amaEfficiencyRatio(ES 06-26 (2000 Tick),Balanced,0.85,21,21)", 16.8, "#1E3342");
label(5, 1995, "RIGHT SIDE skTimePerTickBarModNT8(ES 06-26 (2000 Tick))", 17, "#1E3342");
label(5, 2024, "© 2025 NinjaTrader, LLC", 17, "#1E4466");
label(4, 2089, "ES 06-26 ES 06-26 2000 Tick", 9, "#6A6A6A");
label(3818, 2090, "NINJATRADER", 15.5, "#E8502A", t => t.attr("font-weight", 700).attr("text-anchor", "end"));
</script>
</body>
</html>
